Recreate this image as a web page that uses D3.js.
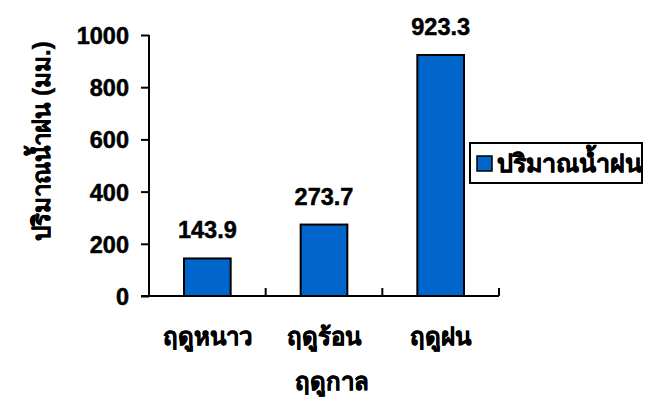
<!DOCTYPE html>
<html>
<head>
<meta charset="utf-8">
<script src="https://cdn.jsdelivr.net/npm/d3@7"></script>
<style>
  html, body { margin: 0; padding: 0; background: #fff; }
  svg { display: block; }
  text { font-family: "Liberation Sans", Arial, sans-serif; font-weight: bold; fill: #000; stroke: #000; stroke-width: 0.5px; }
</style>
</head>
<body>
<svg id="chart" width="645" height="398"></svg>
<script>
// Seasonal rainfall (mm)
const categories = ["ฤดูหนาว", "ฤดูร้อน", "ฤดูฝน"];
const rainfall = [143.9, 273.7, 923.3];
const yTicks = [0, 200, 400, 600, 800, 1000];
const seriesName = "ปริมาณน้ำฝน";
const xTitle = "ฤดูกาล";
const yTitle = "ปริมาณน้ำฝน (มม.)";

const svg = d3.select("#chart");
const plot = { left: 149, right: 499, top: 35, bottom: 296 };
const barColor = "#0066CC";
const numSize = "23.5px";
const thaiSize = "24px";

const x = d3.scaleBand()
  .domain(categories)
  .range([plot.left, plot.right])
  .paddingInner(0.6)
  .paddingOuter(0.3);

const y = d3.scaleLinear()
  .domain([0, 1000])
  .range([plot.bottom, plot.top]);

// Bars
svg.append("g")
  .selectAll("rect")
  .data(rainfall)
  .join("rect")
  .attr("x", (d, i) => x(categories[i]))
  .attr("y", d => y(d))
  .attr("width", x.bandwidth())
  .attr("height", d => y(0) - y(d))
  .attr("fill", barColor)
  .attr("stroke", "#000")
  .attr("stroke-width", 2);

// Value labels above bars
svg.append("g")
  .selectAll("text")
  .data(rainfall)
  .join("text")
  .attr("x", (d, i) => x(categories[i]) + x.bandwidth() / 2)
  .attr("y", d => y(d) - 20)
  .attr("text-anchor", "middle")
  .style("font-size", numSize)
  .text(d => d.toFixed(1));

// Y axis
const yAxis = svg.append("g")
  .attr("transform", `translate(${plot.left},0)`)
  .call(d3.axisLeft(y).tickValues(yTicks).tickSize(8).tickPadding(12).tickFormat(d3.format("d")));
yAxis.attr("font-family", null).attr("font-size", null);
yAxis.select(".domain").attr("stroke", "#000").attr("stroke-width", 2).attr("d", `M0,${plot.top}V${plot.bottom}`);
yAxis.selectAll(".tick line").attr("stroke", "#000").attr("stroke-width", 2);
yAxis.selectAll(".tick text")
  .attr("fill", "#000")
  .style("font-size", numSize)
  .attr("dy", "0.36em");

// X axis line with ticks at category boundaries
const step = x.step();
const boundaries = categories.map((c, i) => plot.left + (i + 1) * step);
const xAxis = svg.append("g");
xAxis.append("line")
  .attr("x1", plot.left - 8).attr("x2", plot.right)
  .attr("y1", plot.bottom).attr("y2", plot.bottom)
  .attr("stroke", "#000").attr("stroke-width", 2);
xAxis.selectAll("line.tick")
  .data(boundaries)
  .join("line")
  .attr("class", "tick")
  .attr("x1", d => d).attr("x2", d => d)
  .attr("y1", plot.bottom - 8).attr("y2", plot.bottom)
  .attr("stroke", "#000").attr("stroke-width", 2);

// Category labels
svg.append("g")
  .selectAll("text")
  .data(categories)
  .join("text")
  .attr("x", d => x(d) + x.bandwidth() / 2)
  .attr("y", 345)
  .attr("text-anchor", "middle")
  .style("font-size", thaiSize)
  .text(d => d);

// Axis titles
svg.append("text")
  .attr("x", 332)
  .attr("y", 390)
  .attr("text-anchor", "middle")
  .style("font-size", thaiSize)
  .text(xTitle);

svg.append("text")
  .attr("transform", "translate(50,141) rotate(-90)")
  .attr("text-anchor", "middle")
  .style("font-size", thaiSize)
  .text(yTitle);

// Legend
const legend = svg.append("g");
legend.append("rect")
  .attr("x", 470).attr("y", 143)
  .attr("width", 172).attr("height", 40)
  .attr("fill", "#fff").attr("stroke", "#000").attr("stroke-width", 2);
legend.append("rect")
  .attr("x", 477).attr("y", 156)
  .attr("width", 15).attr("height", 15)
  .attr("fill", barColor).attr("stroke", "#000").attr("stroke-width", 1.5);
legend.append("text")
  .attr("x", 497).attr("y", 172)
  .style("font-size", "25px")
  .text(seriesName);
</script>
</body>
</html>
